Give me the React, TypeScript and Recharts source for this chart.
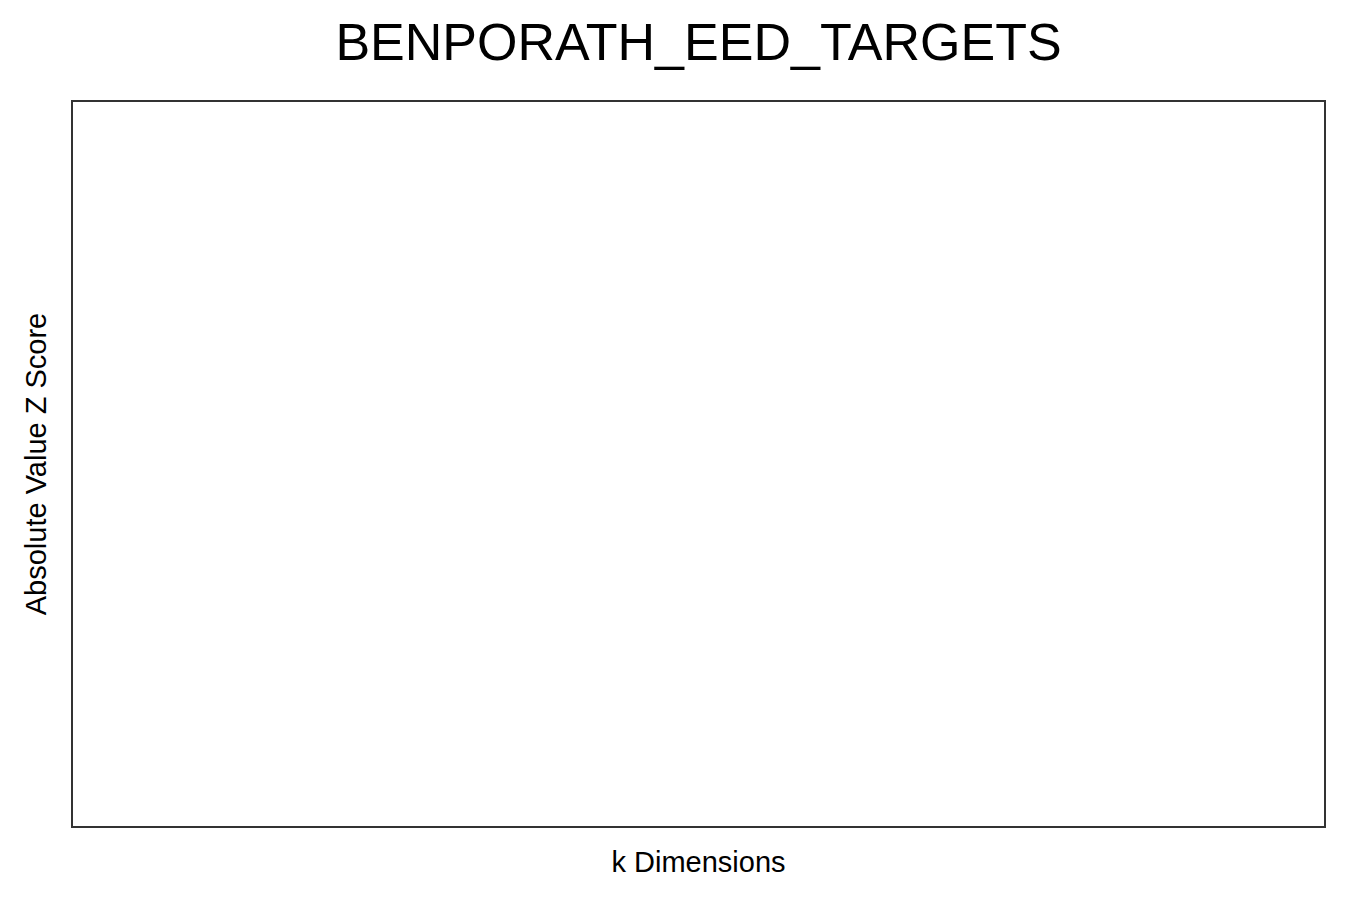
import { LineChart, Line, XAxis, YAxis } from "recharts";

// The reference shows an empty panel: no points were plotted.
const dimensions: number[] = [];
const zScores: number[] = [];

const data = dimensions.map((k, i) => ({ k, z: zScores[i] }));

export default function App() {
  return (
    <div
      style={{
        position: "absolute",
        left: 0,
        top: 0,
        width: 1350,
        height: 900,
        background: "#fff",
        fontFamily: "Arial, 'Liberation Sans', sans-serif",
      }}
    >
      <div
        style={{
          position: "absolute",
          top: 12,
          left: 71,
          width: 1255,
          textAlign: "center",
          fontSize: 52,
          color: "#000",
        }}
      >
        BENPORATH_EED_TARGETS
      </div>
      <LineChart
        width={1350}
        height={900}
        data={data}
        margin={{ top: 100, left: 71, right: 24, bottom: 72 }}
      >
        <XAxis dataKey="k" hide />
        <YAxis hide />
        <Line dataKey="z" stroke="#000" dot={false} isAnimationActive={false} />
      </LineChart>
      <div
        style={{
          position: "absolute",
          left: 71,
          top: 100,
          width: 1255,
          height: 728,
          boxSizing: "border-box",
          border: "2px solid #333",
        }}
      />
      <div
        style={{
          position: "absolute",
          top: 846,
          left: 71,
          width: 1255,
          textAlign: "center",
          fontSize: 29,
        }}
      >
        k Dimensions
      </div>
      <div
        style={{
          position: "absolute",
          left: 36,
          top: 464,
          transform: "translate(-50%, -50%) rotate(-90deg)",
          whiteSpace: "nowrap",
          fontSize: 29,
        }}
      >
        Absolute Value Z Score
      </div>
    </div>
  );
}
